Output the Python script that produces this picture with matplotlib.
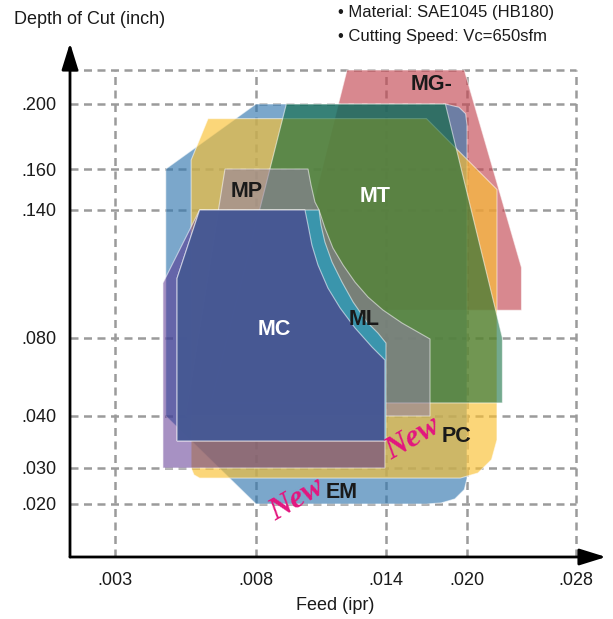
import numpy as np
import matplotlib
matplotlib.use('Agg')
import matplotlib.pyplot as plt
from matplotlib.patches import Polygon

plt.rcParams['font.family'] = ['Liberation Sans', 'DejaVu Sans']

# ---------------- data (feed: ipr, depth of cut: inch) ----------------
x_ticks = [0.003, 0.008, 0.014, 0.020, 0.028]
x_tick_labels = ['.003', '.008', '.014', '.020', '.028']
y_ticks = [0.020, 0.030, 0.040, 0.080, 0.140, 0.160, 0.200]
y_tick_labels = ['.020', '.030', '.040', '.080', '.140', '.160', '.200']
grid_top = 0.220

mg_feed = [0.0122, 0.0198, 0.0240, 0.0240, 0.0094]
mg_depth = [0.220, 0.220, 0.113, 0.093, 0.093]

em_feed = [0.0080, 0.0184, 0.0194, 0.0199, 0.0200, 0.0200, 0.0198, 0.0191, 0.0181, 0.0170, 0.0080, 0.0048, 0.0048]
em_depth = [0.200, 0.200, 0.198, 0.194, 0.187, 0.027, 0.024, 0.0214, 0.0203, 0.020, 0.020, 0.040, 0.160]

pc_feed = [0.0063, 0.0170, 0.0222, 0.0222, 0.0218, 0.0208, 0.0195, 0.0060, 0.0058, 0.0057, 0.0057]
pc_depth = [0.191, 0.191, 0.150, 0.0354, 0.0316, 0.0286, 0.0272, 0.0272, 0.0281, 0.030, 0.1655]

mt_feed = [0.0094, 0.0184, 0.0226, 0.0226, 0.0064]
mt_depth = [0.200, 0.200, 0.080, 0.0467, 0.0467]

mp_feed = [0.0069, 0.0104, 0.01054, 0.01072, 0.01091, 0.01118, 0.01155, 0.01202, 0.01257,
           0.01317, 0.01386, 0.01519, 0.01726, 0.01726, 0.0055]
mp_depth = [0.160, 0.160, 0.1522, 0.1439, 0.140, 0.1316, 0.1222, 0.1142, 0.1062,
            0.0992, 0.0931, 0.0870, 0.0795, 0.040, 0.040]

mc_curve_feed = [0.01026, 0.0104, 0.01058, 0.01086, 0.01132, 0.01188, 0.01257, 0.01335, 0.01395]
mc_curve_depth = [0.140, 0.1330, 0.1236, 0.1142, 0.1034, 0.0941, 0.0847, 0.0754, 0.0687]

pu_feed = [0.0060] + mc_curve_feed + [0.01395, 0.0047, 0.0047]
pu_depth = [0.140] + mc_curve_depth + [0.030, 0.030, 0.1058]

ml_feed = [0.0060, 0.01091, 0.0110, 0.01118, 0.01151, 0.01197, 0.01248, 0.01312, 0.01363,
           0.0140, 0.0140, 0.0052, 0.0052]
ml_depth = [0.140, 0.140, 0.1330, 0.125, 0.1156, 0.1062, 0.0969, 0.0875, 0.0823,
            0.0774, 0.0352, 0.0352, 0.108]

mc_feed = [0.0060] + mc_curve_feed + [0.01395, 0.0052, 0.0052]
mc_depth = [0.140] + mc_curve_depth + [0.0352, 0.0352, 0.108]

# ---------------- non-uniform axis scales ----------------
FEED_KNOTS = [0.0014, 0.003, 0.008, 0.014, 0.020, 0.028, 0.0302]
FEED_POS = [0, 45, 186, 316, 397, 506, 536]
DEPTH_KNOTS = [0.010, 0.020, 0.030, 0.040, 0.080, 0.140, 0.160, 0.200, 0.220, 0.236]
DEPTH_POS = [0, 53, 89, 141, 219, 347, 388, 453, 487, 514]

def fx(v): return np.interp(v, FEED_KNOTS, FEED_POS)
def ifx(p): return np.interp(p, FEED_POS, FEED_KNOTS)
def fy(v): return np.interp(v, DEPTH_KNOTS, DEPTH_POS)
def ify(p): return np.interp(p, DEPTH_POS, DEPTH_KNOTS)

W, H = 613, 619
fig = plt.figure(figsize=(W / 100, H / 100), dpi=100)
ax = fig.add_axes([70 / W, (H - 557) / H, (606 - 70) / W, (557 - 43) / H])
ax.set_xscale('function', functions=(fx, ifx))
ax.set_yscale('function', functions=(fy, ify))
ax.set_xlim(FEED_KNOTS[0], FEED_KNOTS[-1])
ax.set_ylim(DEPTH_KNOTS[0], DEPTH_KNOTS[-1])
ax.patch.set_alpha(0)
for s in ax.spines.values():
    s.set_visible(False)

# grid
grid_kw = dict(colors='#9b9b9b', linestyles=(0, (3.2, 2.2)), linewidth=1.8, zorder=0.5)
ax.hlines(y_ticks + [grid_top], FEED_KNOTS[0], x_ticks[-1], **grid_kw)
ax.vlines(x_ticks, DEPTH_KNOTS[0], grid_top, **grid_kw)

shapes = [
    (mg_feed, mg_depth, '#c44853', 0.65),
    (em_feed, em_depth, '#3479b0', 0.65),
    (pc_feed, pc_depth, '#fac032', 0.65),
    (mt_feed, mt_depth, '#006332', 0.55),
    (mp_feed, mp_depth, '#917fa5', 0.55),
    (pu_feed, pu_depth, '#512589', 0.50),
    (ml_feed, ml_depth, '#3099b6', 0.85),
    (mc_feed, mc_depth, '#4a4f8f', 0.85),
]
for i, (fd, dp, col, a) in enumerate(shapes):
    fc = matplotlib.colors.to_rgba(col, a)
    poly = Polygon(np.column_stack([fd, dp]), closed=True, facecolor=fc,
                   edgecolor=(1, 1, 1, 0.55), linewidth=0.8, zorder=1 + i * 0.1)
    ax.add_patch(poly)

# axis lines with arrows
arrow_kw = dict(arrowstyle='-|>,head_length=0.9,head_width=0.28', color='black',
                lw=2.0, shrinkA=0, shrinkB=0, mutation_scale=18)
ax.annotate('', xy=(0, 1), xytext=(0, 0), xycoords='axes fraction', arrowprops=arrow_kw, zorder=5)
ax.annotate('', xy=(1, 0), xytext=(0, 0), xycoords='axes fraction', arrowprops=arrow_kw, zorder=5)

ax.set_xticks(x_ticks)
ax.set_xticklabels(x_tick_labels)
ax.set_yticks(y_ticks)
ax.set_yticklabels(y_tick_labels)
ax.tick_params(axis='both', length=0, labelsize=13, colors='#1a1a1a')
ax.tick_params(axis='x', pad=11)
ax.tick_params(axis='y', pad=9.5)
ax.minorticks_off()

# region labels
lab = dict(ha='center', va='center', fontsize=15.5, fontweight='bold', zorder=6)
ax.text(0.01741, 0.2112, 'MG-', color='#1a1a1a', **lab)
ax.text(0.00768, 0.1488, 'MP', color='#1a1a1a', **lab)
ax.text(0.01349, 0.1468, 'MT', color='white', **lab)
ax.text(0.00883, 0.0842, 'MC', color='white', **lab)
ax.text(0.01298, 0.0889, 'ML', color='#1a1a1a', **lab)
ax.text(0.01919, 0.0360, 'PC', color='#1a1a1a', **lab)
ax.text(0.01197, 0.0233, 'EM', color='#1a1a1a', **lab)
new_kw = dict(ha='center', va='center', fontsize=23, fontweight='bold', fontstyle='italic',
              family=['Liberation Serif', 'DejaVu Serif'], color='#e3167f', rotation=30, zorder=6)
ax.text(0.0160, 0.0356, 'New', **new_kw)
ax.text(0.00989, 0.0211, 'New', **new_kw)

# titles / notes
fig.text(14 / W, 1 - 19 / H, 'Depth of Cut (inch)', ha='left', va='center', fontsize=13, color='#1a1a1a')
fig.text(338 / W, 1 - 13 / H, '• Material: SAE1045 (HB180)', ha='left', va='center', fontsize=12, color='#1a1a1a')
fig.text(338 / W, 1 - 36 / H, '• Cutting Speed: Vc=650sfm', ha='left', va='center', fontsize=12, color='#1a1a1a')
fig.text(335 / W, 1 - 605 / H, 'Feed (ipr)', ha='center', va='center', fontsize=13, color='#1a1a1a')

fig.savefig('out.png', dpi=100)
